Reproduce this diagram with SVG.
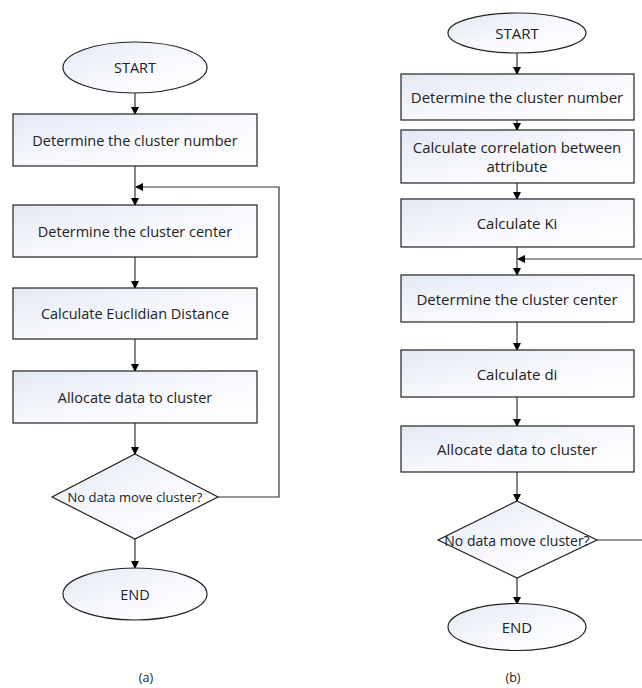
<svg xmlns="http://www.w3.org/2000/svg" width="642" height="688" viewBox="0 0 642 688">
<defs>
<linearGradient id="g" x1="0" y1="0" x2="1" y2="1">
<stop offset="0" stop-color="#e3e8f4"/>
<stop offset="0.5" stop-color="#f6f8fc"/>
<stop offset="1" stop-color="#ffffff"/>
</linearGradient>
<marker id="ah" markerWidth="8" markerHeight="8" refX="7" refY="4" orient="auto" markerUnits="userSpaceOnUse">
<path d="M0,0 L8,4 L0,8 Z" fill="#000"/>
</marker>
<style>
.n{fill:url(#g);stroke:#222;stroke-width:1.2}
.c{fill:none;stroke:#333;stroke-width:1.2}
.a{marker-end:url(#ah)}
text{font-family:"Open Sans","Liberation Sans",sans-serif;font-size:14.5px;fill:#222;text-anchor:middle;dominant-baseline:central}
.b{font-size:15px}
.s{font-size:13px}
.sb{font-size:14px}
.l{font-size:12.5px}
</style>
</defs>
<rect width="642" height="688" fill="#fff"/>
<g id="connectors">
<line class="c a" x1="135" y1="93" x2="135" y2="114"/>
<line class="c a" x1="135" y1="166" x2="135" y2="205"/>
<line class="c a" x1="135" y1="257" x2="135" y2="288"/>
<line class="c a" x1="135" y1="339" x2="135" y2="371"/>
<line class="c a" x1="135" y1="423" x2="135" y2="454"/>
<line class="c a" x1="135" y1="539" x2="135" y2="568"/>
<polyline class="c a" points="218,497 279,497 279,187 136,187"/>
<line class="c a" x1="517" y1="52" x2="517" y2="74"/>
<line class="c a" x1="517" y1="120" x2="517" y2="130"/>
<line class="c a" x1="517" y1="183" x2="517" y2="199"/>
<line class="c a" x1="517" y1="247" x2="517" y2="275"/>
<line class="c a" x1="517" y1="322" x2="517" y2="350"/>
<line class="c a" x1="517" y1="397" x2="517" y2="426"/>
<line class="c a" x1="517" y1="472" x2="517" y2="501"/>
<line class="c a" x1="517" y1="578" x2="517" y2="604"/>
<polyline class="c" points="597,540 650,540"/>
<polyline class="c a" points="650,259 518,259"/>
</g>
<g id="a-start"><ellipse class="n" cx="135" cy="67.5" rx="72" ry="25.5"/><text x="135" y="67.5">START</text></g>
<g id="a-num"><rect class="n" x="13" y="114" width="244" height="52"/><text x="135" y="140">Determine the cluster number</text></g>
<g id="a-center"><rect class="n" x="13" y="205" width="244" height="52"/><text x="135" y="231">Determine the cluster center</text></g>
<g id="a-dist"><rect class="n" x="13" y="288" width="244" height="51"/><text x="135" y="313.5">Calculate Euclidian Distance</text></g>
<g id="a-alloc"><rect class="n" x="13" y="371" width="244" height="52"/><text x="135" y="397">Allocate data to cluster</text></g>
<g id="a-dec"><polygon class="n" points="135,454 218,497 135,539 52,497"/><text class="s" x="135" y="497">No data move cluster?</text></g>
<g id="a-end"><ellipse class="n" cx="135" cy="594" rx="72" ry="26"/><text x="135" y="594">END</text></g>
<text class="l" x="146" y="677">(a)</text>
<g id="b-start"><ellipse class="n" cx="517" cy="33" rx="69" ry="20"/><text class="b" x="517" y="33">START</text></g>
<g id="b-num"><rect class="n" x="401" y="74" width="233" height="46"/><text class="b" x="517" y="97">Determine the cluster number</text></g>
<g id="b-corr"><rect class="n" x="401" y="130" width="233" height="53"/><text class="b" x="517" y="147">Calculate correlation between</text><text class="b" x="517" y="166">attribute</text></g>
<g id="b-ki"><rect class="n" x="401" y="199" width="233" height="48"/><text class="b" x="517" y="223">Calculate Ki</text></g>
<g id="b-center"><rect class="n" x="401" y="275" width="233" height="47"/><text class="b" x="517" y="298.5">Determine the cluster center</text></g>
<g id="b-di"><rect class="n" x="401" y="350" width="233" height="47"/><text class="b" x="517" y="373.5">Calculate di</text></g>
<g id="b-alloc"><rect class="n" x="401" y="426" width="233" height="46"/><text class="b" x="517" y="449">Allocate data to cluster</text></g>
<g id="b-dec"><polygon class="n" points="517,501 597,540 517,578 438,540"/><text class="sb" x="517" y="540">No data move cluster?</text></g>
<g id="b-end"><ellipse class="n" cx="517" cy="627" rx="69" ry="23.5"/><text class="b" x="517" y="627">END</text></g>
<text class="l" x="513" y="677">(b)</text>
</svg>
